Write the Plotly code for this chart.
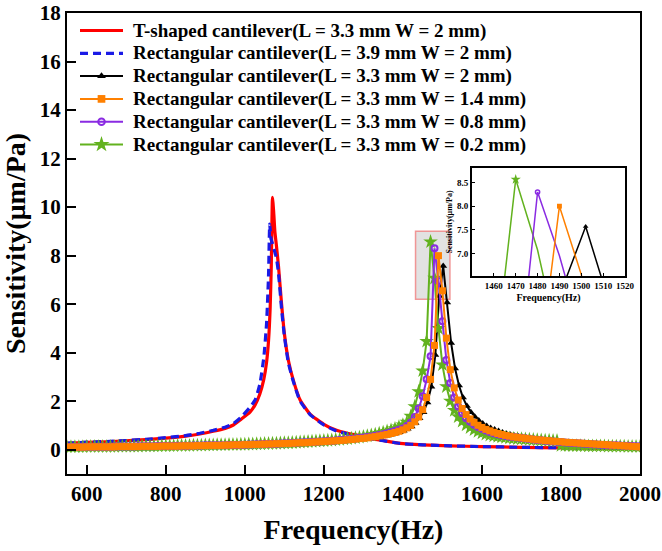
import plotly.graph_objects as go

# ---- T-shaped cantilever (L = 3.3 mm, W = 2 mm) ----
T_FREQ = [550, 600, 650, 700, 750, 800, 850, 886, 920, 950, 971, 990, 1013, 1026, 1038,
          1048, 1055, 1060, 1064, 1067, 1070, 1073, 1076, 1080, 1085, 1093, 1100, 1110, 1123,
          1140, 1165, 1200, 1232, 1260, 1291, 1320, 1350, 1393, 1450, 1519, 1600, 1700, 1800,
          1900, 2000]
T_SENS = [0.26, 0.30, 0.33, 0.37, 0.42, 0.48, 0.56, 0.65, 0.76, 0.88, 1.02, 1.25, 1.55, 1.85, 2.3,
          2.9, 3.6, 4.5, 5.8, 7.6, 10.4, 9.8, 9.0, 8.4, 7.6, 6.0, 4.8, 3.7, 2.85,
          2.05, 1.47, 1.05, 0.80, 0.68, 0.58, 0.47, 0.38, 0.26, 0.20, 0.16, 0.13, 0.10, 0.08,
          0.06, 0.05]

# ---- Rectangular cantilever (L = 3.9 mm, W = 2 mm) ----
R39_FREQ = [550, 600, 650, 700, 750, 800, 850, 886, 920, 950, 971, 990, 1013, 1026, 1038,
            1048, 1055, 1060, 1063, 1066, 1070, 1075, 1080, 1085, 1093, 1100, 1110, 1123, 1140,
            1165, 1200, 1232, 1260, 1291, 1320, 1350, 1393, 1450, 1519, 1600, 1700, 1800, 1900,
            2000]
R39_SENS = [0.27, 0.31, 0.34, 0.38, 0.43, 0.50, 0.58, 0.68, 0.80, 0.93, 1.08, 1.33, 1.75, 2.05, 2.7,
            3.8, 5.2, 7.2, 9.3, 8.7, 8.5, 8.2, 7.9, 7.3, 5.8, 4.7, 3.6, 2.8, 2.0,
            1.45, 1.02, 0.77, 0.65, 0.55, 0.45, 0.37, 0.26, 0.20, 0.16, 0.13, 0.10, 0.08, 0.06,
            0.05]

# ---- Rectangular cantilevers, L = 3.3 mm, swept every 10 Hz ----
FREQ = list(range(550, 2001, 10))        # 550 ... 2000 Hz
FREQ_W2 = list(range(552, 1993, 10))     # 552 ... 1992 Hz

SENS_W2 = [
    0.10, 0.10, 0.10, 0.10, 0.11, 0.11, 0.11, 0.11, 0.11, 0.11,
    0.11, 0.11, 0.12, 0.12, 0.12, 0.12, 0.12, 0.12, 0.13, 0.13,
    0.13, 0.13, 0.13, 0.14, 0.14, 0.14, 0.14, 0.14, 0.15, 0.15,
    0.15, 0.15, 0.16, 0.16, 0.16, 0.17, 0.17, 0.17, 0.17, 0.18,
    0.18, 0.18, 0.19, 0.19, 0.19, 0.20, 0.20, 0.21, 0.21, 0.22,
    0.22, 0.23, 0.23, 0.24, 0.24, 0.25, 0.25, 0.26, 0.27, 0.27,
    0.28, 0.29, 0.30, 0.30, 0.31, 0.32, 0.33, 0.34, 0.35, 0.36,
    0.37, 0.39, 0.40, 0.42, 0.43, 0.45, 0.47, 0.49, 0.51, 0.53,
    0.56, 0.59, 0.63, 0.67, 0.72, 0.78, 0.86, 0.96, 1.10, 1.30,
    1.55, 1.95, 2.60, 3.90, 6.34, 7.57, 6.07, 4.40, 3.35, 2.65,
    2.15, 1.80, 1.55, 1.36, 1.20, 1.08, 0.98, 0.90, 0.83, 0.77,
    0.71, 0.66, 0.62, 0.58, 0.55, 0.52, 0.49, 0.47, 0.44, 0.42,
    0.40, 0.38, 0.37, 0.35, 0.34, 0.32, 0.31, 0.30, 0.29, 0.27,
    0.26, 0.25, 0.24, 0.23, 0.22, 0.21, 0.20, 0.19, 0.18, 0.17,
    0.16, 0.15, 0.14, 0.14, 0.13,
]

SENS_W14 = [
    0.11, 0.11, 0.11, 0.11, 0.11, 0.12, 0.12, 0.12, 0.12, 0.12,
    0.12, 0.12, 0.12, 0.13, 0.13, 0.13, 0.13, 0.13, 0.13, 0.14,
    0.14, 0.14, 0.14, 0.14, 0.15, 0.15, 0.15, 0.15, 0.15, 0.16,
    0.16, 0.16, 0.16, 0.17, 0.17, 0.17, 0.18, 0.18, 0.18, 0.18,
    0.19, 0.19, 0.20, 0.20, 0.20, 0.21, 0.21, 0.22, 0.22, 0.23,
    0.23, 0.24, 0.24, 0.25, 0.25, 0.26, 0.26, 0.27, 0.28, 0.29,
    0.29, 0.30, 0.31, 0.32, 0.33, 0.34, 0.35, 0.36, 0.37, 0.38,
    0.39, 0.41, 0.42, 0.44, 0.46, 0.47, 0.49, 0.52, 0.54, 0.57,
    0.60, 0.63, 0.67, 0.71, 0.76, 0.82, 0.90, 1.00, 1.15, 1.35,
    1.65, 2.15, 2.90, 4.30, 8.00, 6.55, 4.60, 3.30, 2.55, 2.05,
    1.70, 1.45, 1.27, 1.13, 1.01, 0.92, 0.84, 0.78, 0.72, 0.67,
    0.63, 0.59, 0.56, 0.53, 0.51, 0.49, 0.47, 0.45, 0.43, 0.41,
    0.40, 0.38, 0.37, 0.35, 0.34, 0.33, 0.31, 0.30, 0.29, 0.28,
    0.27, 0.26, 0.25, 0.24, 0.23, 0.22, 0.21, 0.20, 0.19, 0.18,
    0.17, 0.16, 0.15, 0.14, 0.13, 0.12,
]

SENS_W08 = [
    0.11, 0.11, 0.11, 0.11, 0.12, 0.12, 0.12, 0.12, 0.12, 0.12,
    0.12, 0.12, 0.13, 0.13, 0.13, 0.13, 0.13, 0.13, 0.14, 0.14,
    0.14, 0.14, 0.14, 0.15, 0.15, 0.15, 0.15, 0.15, 0.16, 0.16,
    0.16, 0.16, 0.17, 0.17, 0.17, 0.18, 0.18, 0.18, 0.19, 0.19,
    0.19, 0.20, 0.20, 0.20, 0.21, 0.21, 0.22, 0.22, 0.23, 0.23,
    0.24, 0.24, 0.25, 0.25, 0.26, 0.27, 0.27, 0.28, 0.29, 0.30,
    0.31, 0.31, 0.32, 0.33, 0.34, 0.35, 0.36, 0.37, 0.38, 0.40,
    0.41, 0.43, 0.44, 0.46, 0.48, 0.50, 0.52, 0.55, 0.58, 0.61,
    0.64, 0.68, 0.72, 0.77, 0.82, 0.88, 0.98, 1.12, 1.35, 1.70,
    2.20, 2.90, 3.85, 8.30, 6.95, 5.30, 3.70, 2.75, 2.15, 1.78,
    1.50, 1.30, 1.15, 1.03, 0.94, 0.86, 0.79, 0.73, 0.68, 0.64,
    0.60, 0.57, 0.54, 0.52, 0.50, 0.48, 0.46, 0.44, 0.42, 0.40,
    0.39, 0.37, 0.36, 0.34, 0.33, 0.32, 0.30, 0.29, 0.28, 0.27,
    0.26, 0.25, 0.24, 0.23, 0.22, 0.21, 0.20, 0.19, 0.18, 0.18,
    0.17, 0.16, 0.16, 0.15, 0.14, 0.14,
]

SENS_W02 = [
    0.12, 0.12, 0.12, 0.12, 0.12, 0.13, 0.13, 0.13, 0.13, 0.13,
    0.13, 0.13, 0.13, 0.14, 0.14, 0.14, 0.14, 0.14, 0.14, 0.15,
    0.15, 0.15, 0.15, 0.15, 0.16, 0.16, 0.16, 0.16, 0.17, 0.17,
    0.17, 0.17, 0.18, 0.18, 0.18, 0.19, 0.19, 0.19, 0.20, 0.20,
    0.20, 0.21, 0.21, 0.21, 0.22, 0.22, 0.23, 0.23, 0.24, 0.24,
    0.25, 0.25, 0.26, 0.26, 0.27, 0.28, 0.28, 0.29, 0.30, 0.31,
    0.32, 0.33, 0.34, 0.35, 0.36, 0.37, 0.38, 0.39, 0.41, 0.42,
    0.44, 0.45, 0.47, 0.49, 0.51, 0.54, 0.57, 0.60, 0.63, 0.67,
    0.71, 0.76, 0.81, 0.87, 0.94, 1.02, 1.14, 1.38, 1.78, 2.40,
    3.25, 4.47, 8.57, 7.07, 5.00, 3.50, 2.60, 2.00, 1.62, 1.36,
    1.17, 1.02, 0.91, 0.82, 0.75, 0.69, 0.64, 0.60, 0.57, 0.54,
    0.52, 0.50, 0.48, 0.46, 0.45, 0.44, 0.43, 0.42, 0.41, 0.40,
    0.39, 0.38, 0.38, 0.37, 0.37, 0.17, 0.17, 0.17, 0.16, 0.16,
    0.16, 0.16, 0.15, 0.15, 0.15, 0.15, 0.15, 0.14, 0.14, 0.14,
    0.14, 0.14, 0.13, 0.13, 0.13, 0.13,
]

NAMES = [
    "T-shaped cantilever(L = 3.3 mm W = 2 mm)",
    "Rectangular cantilever(L = 3.9 mm W = 2 mm)",
    "Rectangular cantilever(L = 3.3 mm W = 2 mm)",
    "Rectangular cantilever(L = 3.3 mm W = 1.4 mm)",
    "Rectangular cantilever(L = 3.3 mm W = 0.8 mm)",
    "Rectangular cantilever(L = 3.3 mm W = 0.2 mm)",
]
COLORS = ["#FF0000", "#1A1AE6", "#000000", "#FF8000", "#8A2BE2", "#62B21E"]
SYMBOLS = [None, None, "triangle-up", "square", "circle-open", "star"]
SIZES = [0, 0, 7, 7, 6, 11]

X_TICKS = [600, 800, 1000, 1200, 1400, 1600, 1800, 2000]
Y_TICKS = [0, 2, 4, 6, 8, 10, 12, 14, 16, 18]
INSET_X_TICKS = [1460, 1470, 1480, 1490, 1500, 1510, 1520]
INSET_Y_TICKS = [7.0, 7.5, 8.0, 8.5]

FONT = "Liberation Serif, Times New Roman, serif"

# figure geometry (pixels)
W, H = 662, 551
PL, PR, PT, PB = 67, 640, 13, 474

# rectangular series in drawing order: (legend index, x, y)
RECT = [
    (2, FREQ_W2, SENS_W2),
    (5, FREQ, SENS_W02),
    (4, FREQ, SENS_W08),
    (3, FREQ, SENS_W14),
]


def marker_style(idx, scale=1.0, ring=2.0):
    sym = SYMBOLS[idx]
    return dict(
        symbol=sym, size=max(SIZES[idx] * scale, 4), color=COLORS[idx],
        line=dict(color=COLORS[idx], width=ring if sym == "circle-open" else 0),
    )


fig = go.Figure()

fig.add_trace(go.Scatter(
    x=T_FREQ, y=T_SENS, mode="lines", name=NAMES[0], showlegend=False,
    line=dict(color=COLORS[0], width=3.2, shape="spline", smoothing=0.5),
))
fig.add_trace(go.Scatter(
    x=R39_FREQ, y=R39_SENS, mode="lines", name=NAMES[1], showlegend=False,
    line=dict(color=COLORS[1], width=3.2, dash="8px,5px", shape="spline", smoothing=0.5),
))

for idx, xs, ys in RECT:
    fig.add_trace(go.Scatter(
        x=xs, y=ys, mode="lines+markers", name=NAMES[idx], showlegend=False,
        line=dict(color=COLORS[idx], width=2),
        marker=marker_style(idx),
    ))

# zoomed view of the resonance peaks: lines, with a marker at each peak sample
for idx, xs, ys in RECT:
    fig.add_trace(go.Scatter(
        x=xs, y=ys, mode="lines", showlegend=False, xaxis="x2", yaxis="y2",
        line=dict(color=COLORS[idx], width=1.5),
    ))
    k = ys.index(max(ys))
    fig.add_trace(go.Scatter(
        x=[xs[k]], y=[ys[k]], mode="markers", showlegend=False, xaxis="x2", yaxis="y2",
        marker=marker_style(idx, scale=0.7, ring=1.5), cliponaxis=False,
    ))

# highlighted peak region
fig.add_shape(
    type="rect", xref="x", yref="y", x0=1432, x1=1519, y0=6.2, y1=9.0,
    fillcolor="rgba(190,190,190,0.45)", line=dict(color="rgba(240,140,140,0.9)", width=1.5),
    layer="below",
)

# legend block, laid out on a pixel-scaled overlay axis pair
LEG_Y0, LEG_DY = 30.5, 22.8
LEG_X0, LEG_X1, LEG_TX = 80, 123, 131
for i, name in enumerate(NAMES):
    yy = LEG_Y0 + i * LEG_DY
    dash = "8px,5px" if i == 1 else "solid"
    width = 3.2 if i < 2 else 2
    fig.add_trace(go.Scatter(
        x=[LEG_X0, LEG_X1], y=[yy, yy], mode="lines", showlegend=False, hoverinfo="skip",
        xaxis="x3", yaxis="y3", line=dict(color=COLORS[i], width=width, dash=dash),
    ))
    if SYMBOLS[i]:
        fig.add_trace(go.Scatter(
            x=[(LEG_X0 + LEG_X1) / 2], y=[yy], mode="markers", showlegend=False,
            hoverinfo="skip", xaxis="x3", yaxis="y3", marker=marker_style(i, scale=1.1),
        ))
    fig.add_annotation(
        x=LEG_TX, y=yy, xref="x3", yref="y3", text=name, showarrow=False,
        xanchor="left", yanchor="middle",
        font=dict(family=FONT, size=19, weight="bold", color="black"),
    )

axis_common = dict(
    showline=True, linecolor="black", linewidth=2, mirror=True, automargin=False,
    showgrid=False, zeroline=False, ticks="inside", tickcolor="black",
)

fig.update_layout(
    width=W, height=H,
    margin=dict(l=PL, r=W - PR, t=PT, b=H - PB),
    paper_bgcolor="white", plot_bgcolor="white",
    font=dict(family=FONT, color="black"),
    showlegend=False,
    xaxis=dict(
        **axis_common, range=[550, 2000], tickvals=X_TICKS, ticklen=9, tickwidth=2,
        tickfont=dict(family=FONT, size=21, weight="bold"),
        title=dict(text="Frequency(Hz)", font=dict(family=FONT, size=28, weight="bold"), standoff=14),
    ),
    yaxis=dict(
        **axis_common, range=[-1, 18], tickvals=Y_TICKS, ticklen=9, tickwidth=2,
        tickfont=dict(family=FONT, size=21, weight="bold"),
        title=dict(text="Sensitivity(μm/Pa)", font=dict(family=FONT, size=28, weight="bold"), standoff=6),
    ),
    xaxis2=dict(
        **axis_common, domain=[(472 - PL) / (PR - PL), (625 - PL) / (PR - PL)], anchor="y2",
        range=[1450, 1520], tickvals=INSET_X_TICKS, ticklen=3, tickwidth=1,
        tickfont=dict(family=FONT, size=9, weight="bold"),
        title=dict(text="Frequency(Hz)", font=dict(family=FONT, size=10, weight="bold"), standoff=4),
    ),
    yaxis2=dict(
        **axis_common, domain=[(PB - 276) / (PB - PT), (PB - 168) / (PB - PT)], anchor="x2",
        range=[6.52, 8.81], tickvals=INSET_Y_TICKS, ticktext=["7.0", "7.5", "8.0", "8.5"],
        ticklen=3, tickwidth=1,
        tickfont=dict(family=FONT, size=9, weight="bold"),
        title=dict(text="Sensitivity(μm/Pa)", font=dict(family=FONT, size=8, weight="bold"), standoff=3),
    ),
    xaxis3=dict(overlaying="x", anchor="y3", range=[PL, PR], visible=False, fixedrange=True),
    yaxis3=dict(overlaying="y", anchor="x3", range=[PB, PT], visible=False, fixedrange=True),
)

fig.write_html("out.html")
